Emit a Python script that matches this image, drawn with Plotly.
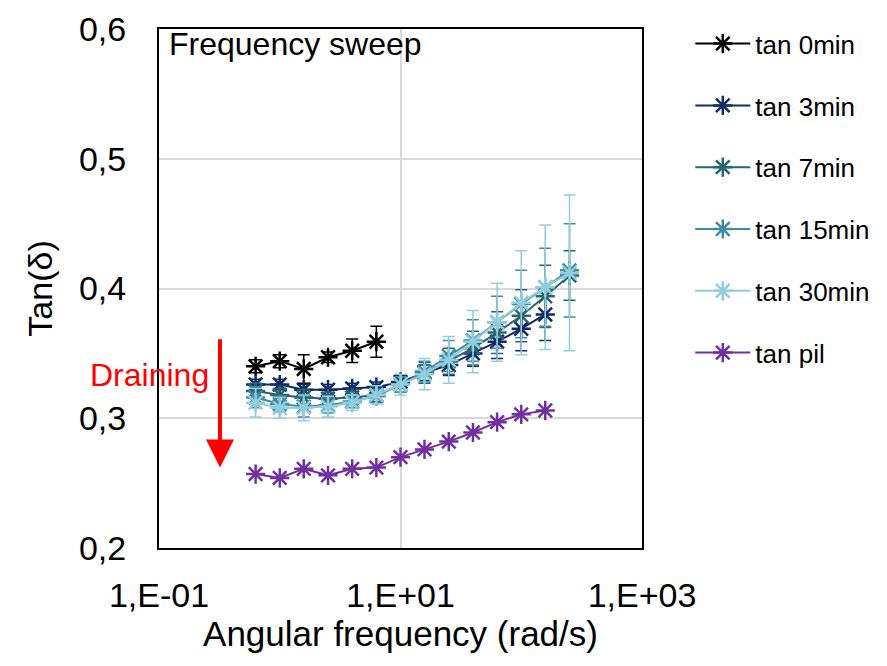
import plotly.graph_objects as go

# angular frequency (rad/s), 5 points per decade
freq = [0.631, 1.0, 1.58, 2.51, 3.98, 6.31, 10.0, 15.8, 25.1, 39.8, 63.1, 100.0, 158.0, 251.0]

tan_0min = [0.340, 0.344, 0.338, 0.347, 0.352, 0.359]
err_0min = [0.005, 0.005, 0.011, 0.004, 0.009, 0.012]

tan_3min = [0.326, 0.326, 0.322, 0.322, 0.323, 0.324, 0.328, 0.335, 0.341, 0.350, 0.359, 0.369, 0.380]
err_3min = [0.004, 0.004, 0.004, 0.004, 0.004, 0.004, 0.005, 0.006, 0.008, 0.010, 0.013, 0.017, 0.020]

tan_7min = [0.321, 0.318, 0.316, 0.315, 0.316, 0.318, 0.326, 0.335, 0.344, 0.354, 0.366, 0.379, 0.394, 0.410]
err_7min = [0.006, 0.005, 0.006, 0.005, 0.005, 0.005, 0.006, 0.008, 0.010, 0.013, 0.016, 0.020, 0.024, 0.019]

tan_15min = [0.316, 0.311, 0.309, 0.310, 0.313, 0.317, 0.326, 0.336, 0.348, 0.360, 0.374, 0.388, 0.401, 0.414]
err_15min = [0.008, 0.006, 0.008, 0.006, 0.005, 0.005, 0.006, 0.008, 0.012, 0.016, 0.020, 0.026, 0.030, 0.036]

tan_30min = [0.312, 0.308, 0.308, 0.309, 0.312, 0.318, 0.326, 0.334, 0.345, 0.359, 0.374, 0.389, 0.401, 0.412]
err_30min = [0.011, 0.008, 0.010, 0.008, 0.006, 0.007, 0.008, 0.012, 0.018, 0.024, 0.030, 0.040, 0.048, 0.060]

tan_pil = [0.257, 0.254, 0.261, 0.256, 0.261, 0.262, 0.270, 0.276, 0.282, 0.289, 0.297, 0.303, 0.306]

series = [
    ("tan 0min", tan_0min, err_0min, "#000000"),
    ("tan 3min", tan_3min, err_3min, "#0F2B68"),
    ("tan 7min", tan_7min, err_7min, "#2A6470"),
    ("tan 15min", tan_15min, err_15min, "#3E8CA5"),
    ("tan 30min", tan_30min, err_30min, "#92CDDC"),
    ("tan pil", tan_pil, None, "#7030A0"),
]

x_tickvals = [0.1, 10, 1000]
x_ticktext = ["1,E-01", "1,E+01", "1,E+03"]

fig = go.Figure()
for i, (name, vals, err, col) in enumerate(series):
    fig.add_trace(go.Scatter(
        x=freq[:len(vals)],
        y=vals,
        name=name,
        legendgroup=str(i),
        mode="lines+markers",
        line=dict(color=col, width=2),
        marker=dict(symbol="asterisk-open", size=16, color=col, line=dict(width=2.5, color=col)),
        error_y=dict(type="data", array=err, color=col, thickness=1.5, width=6, visible=err is not None)))

# page body adds ~8px offset, margins compensate for it
fig.update_layout(
    width=887,
    height=666,
    separators=", ",
    font=dict(family="Liberation Sans, Arial", color="#000000"),
    margin=dict(l=151, r=253, t=21, b=126),
    paper_bgcolor="white",
    plot_bgcolor="white",
    legend=dict(
        x=1.1, y=1.017, xanchor="left", yanchor="top",
        font=dict(size=26),
        traceorder="grouped",
        tracegroupgap=25,
        maxheight=660,
        itemwidth=55),
    xaxis=dict(
        type="log",
        range=[-1, 3],
        tickvals=x_tickvals,
        ticktext=x_ticktext,
        tickfont=dict(size=34),
        ticklabelstandoff=16,
        automargin=False,
        showgrid=True,
        gridcolor="#D9D9D9",
        gridwidth=1.5,
        showline=True,
        linecolor="black",
        linewidth=2,
        mirror=True,
        zeroline=False,
        title=dict(text="Angular frequency (rad/s)", font=dict(size=35), standoff=4)),
    yaxis=dict(
        range=[0.2, 0.6],
        dtick=0.1,
        tickformat=".1f",
        tickfont=dict(size=34),
        ticklabelstandoff=24,
        automargin=False,
        showgrid=True,
        gridcolor="#D9D9D9",
        gridwidth=1.5,
        showline=True,
        linecolor="black",
        linewidth=2,
        mirror=True,
        zeroline=False,
        title=dict(text="Tan(δ)", font=dict(size=34), standoff=16)),
)

fig.add_annotation(
    xref="paper", yref="paper", x=0.016, y=1.01, xanchor="left", yanchor="top",
    text="Frequency sweep", showarrow=False, font=dict(size=32))

fig.add_annotation(
    x=-0.495, y=0.262, ax=-0.495, ay=0.362, xref="x", yref="y", axref="x", ayref="y",
    text="", showarrow=True, arrowhead=2, arrowsize=1.4, arrowwidth=4, arrowcolor="#FF0000")

fig.add_annotation(
    xref="paper", yref="paper", x=-0.147, y=0.333, xanchor="left", yanchor="middle",
    text="Draining", showarrow=False, font=dict(size=32, color="#FF0000"))

fig.write_html("out.html")
